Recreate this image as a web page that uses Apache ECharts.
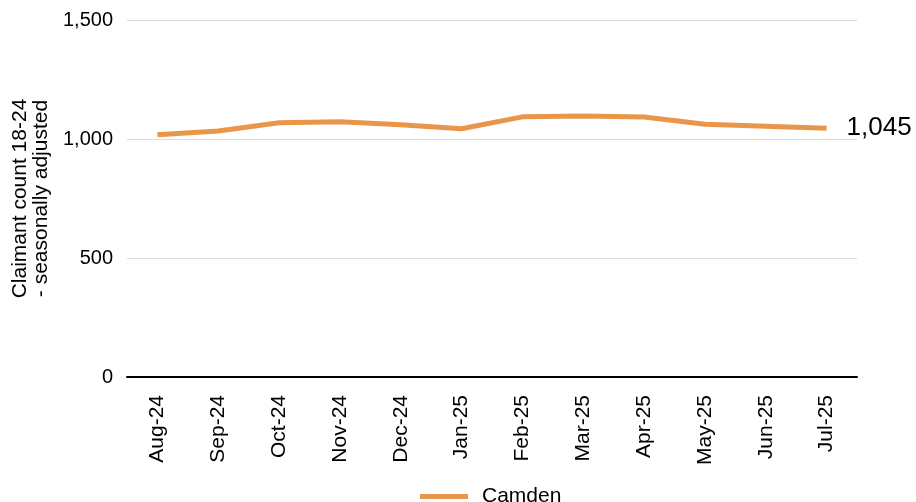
<!DOCTYPE html>
<html>
<head>
<meta charset="utf-8">
<script src="https://cdn.jsdelivr.net/npm/echarts@6/dist/echarts.min.js"></script>
<style>
  html, body { margin: 0; padding: 0; background: #fff; }
  #chart { width: 916px; height: 502px; }
</style>
</head>
<body>
<div id="chart"></div>
<script>
// Monthly claimant count, ages 18-24, seasonally adjusted
const months = ['Aug-24', 'Sep-24', 'Oct-24', 'Nov-24', 'Dec-24', 'Jan-25',
                'Feb-25', 'Mar-25', 'Apr-25', 'May-25', 'Jun-25', 'Jul-25'];
const camden = [1018, 1034, 1068, 1072, 1060, 1043, 1093, 1097, 1092, 1062, 1054, 1045];
const yTicks = { min: 0, max: 1500, interval: 500 };

const font = 'Liberation Sans, Arial, sans-serif';
const chart = echarts.init(document.getElementById('chart'));

chart.setOption({
  animation: false,
  textStyle: { fontFamily: font },
  grid: { left: 127, right: 59, top: 20, bottom: 125 },
  legend: {
    top: 481,
    left: 415,
    itemWidth: 48,
    itemHeight: 5,
    icon: 'rect',
    itemGap: 10,
    textStyle: { fontSize: 21, color: '#000', fontFamily: font, padding: [0, 0, 0, 9] },
    data: ['Camden']
  },
  xAxis: {
    type: 'category',
    data: months,
    boundaryGap: true,
    axisLine: { lineStyle: { color: '#000', width: 2 } },
    axisTick: { alignWithLabel: true, length: 8, lineStyle: { color: '#000', width: 2 } },
    axisLabel: { rotate: 90, fontSize: 21, color: '#000', margin: 18, fontFamily: font }
  },
  yAxis: {
    type: 'value',
    min: yTicks.min,
    max: yTicks.max,
    interval: yTicks.interval,
    name: 'Claimant count 18-24\n- seasonally adjusted',
    nameLocation: 'middle',
    nameRotate: 90,
    nameGap: 62,
    nameTextStyle: { fontSize: 21, color: '#000', lineHeight: 21, fontFamily: font },
    axisLine: { show: false },
    axisTick: { show: false },
    splitLine: { lineStyle: { color: '#dcdcdc', width: 1 } },
    axisLabel: {
      fontSize: 20, color: '#000', margin: 14, fontFamily: font,
      formatter: v => v.toLocaleString('en-GB')
    }
  },
  series: [{
    name: 'Camden',
    type: 'line',
    data: camden,
    symbol: 'none',
    color: '#E9964B',
    lineStyle: { width: 5, color: '#E9964B' },
    endLabel: {
      show: true,
      distance: 20,
      fontSize: 26,
      color: '#000',
      fontFamily: font,
      formatter: p => p.value.toLocaleString('en-GB')
    }
  }]
});
</script>
</body>
</html>
